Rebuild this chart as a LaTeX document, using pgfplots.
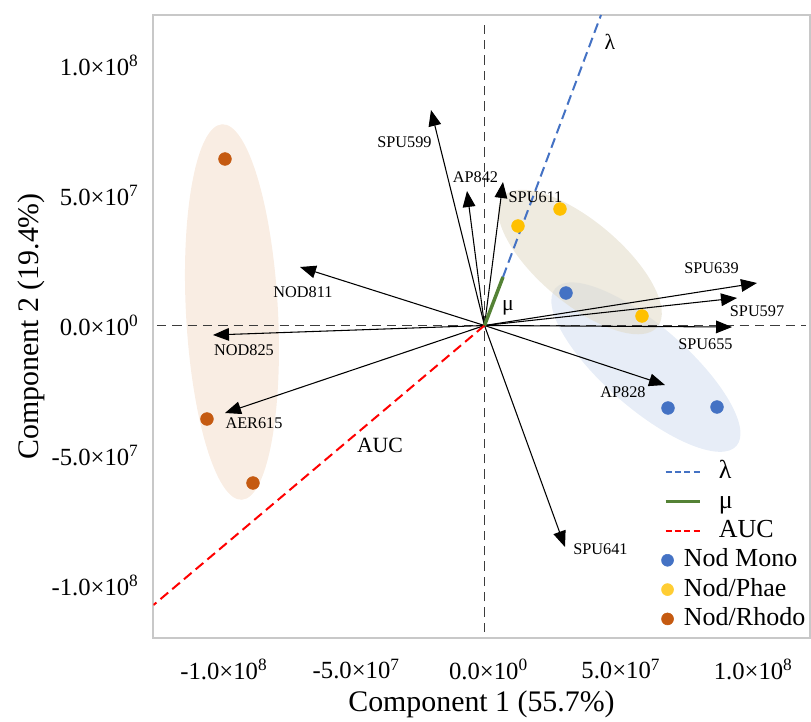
\documentclass[border=0pt]{standalone}
\usepackage{fontspec}
\setmainfont{Liberation Serif}
\usepackage{pgfplots}
\pgfplotsset{compat=1.18}
\usetikzlibrary{arrows.meta}
\definecolor{cblue}{RGB}{68,114,196}
\definecolor{cyellow}{RGB}{255,192,0}
\definecolor{corange}{RGB}{197,90,17}
\definecolor{cgreen}{RGB}{84,130,53}
\definecolor{ellorange}{RGB}{249,237,227}
\definecolor{ellbeige}{RGB}{225,218,198}
\definecolor{ellblue}{RGB}{231,237,247}
\definecolor{framegray}{RGB}{200,200,200}
\definecolor{zerogray}{RGB}{60,60,60}
\begin{document}
\begin{tikzpicture}
\begin{axis}[
  name=ax,
  scale only axis,
  width=492pt, height=467pt,
  xmin=-1.2509e8, xmax=1.2283e8,
  ymin=-1.2008e8, ymax=1.1942e8,
  axis line style={framegray, line width=1.5pt},
  major tick length=0pt,
  scaled ticks=false,
  xtick={-1e8,-5e7,0,5e7,1e8},
  ytick={-1e8,-5e7,0,5e7,1e8},
  xticklabels={{-1.0×10\textsuperscript{8}},{-5.0×10\textsuperscript{7}},{0.0×10\textsuperscript{0}},{5.0×10\textsuperscript{7}},{1.0×10\textsuperscript{8}}},
  yticklabels={{-1.0×10\textsuperscript{8}},{-5.0×10\textsuperscript{7}},{0.0×10\textsuperscript{0}},{5.0×10\textsuperscript{7}},{1.0×10\textsuperscript{8}}},
  ticklabel style={font=\fontsize{18.5}{22}\selectfont, inner sep=0pt},
  xticklabel style={yshift=-16pt, xshift=3pt},
  yticklabel style={xshift=-11pt},
  every axis x label/.style={at={([yshift=-50pt]rel axis cs:0.5,0)}, anchor=center},
  every axis y label/.style={at={([xshift=-91.9pt]rel axis cs:0,0.5)}, anchor=center, rotate=90},
  xlabel={Component 1 (55.7\%)},
  ylabel={Component 2 (19.4\%)},
  label style={font=\fontsize{22.4}{26}\selectfont},
  legend cell align=left,
  legend style={at={(0.7736,0.2854)}, anchor=north west, draw=none, fill=none, inner sep=0pt,
    font=\fontsize{19.5}{22}\selectfont, row sep=4pt,
    nodes={inner sep=0pt, text height=14pt, text depth=4pt},
    /tikz/every odd column/.style={column sep=12.75pt}},
]
% ellipses
\fill[ellorange, rotate around={3:(axis cs:-9.543e7,0.519e7)}] (axis cs:-9.543e7,0.519e7) ellipse [x radius=34.5pt, y radius=141pt];
\fill[ellblue, rotate around={-41:(axis cs:6.10e7,-1.60e7)}] (axis cs:6.10e7,-1.60e7) ellipse [x radius=90pt, y radius=31pt];
\fill[ellbeige, fill opacity=0.55, rotate around={-40:(axis cs:3.609e7,2.442e7)}] (axis cs:3.609e7,2.442e7) ellipse [x radius=75.75pt, y radius=31pt];

% zero lines
\addplot[forget plot, zerogray, line width=0.9pt, dash pattern=on 7pt off 4.5pt] coordinates {(0,-1.179e8) (0,1.167e8)};
\addplot[forget plot, zerogray, line width=0.9pt, dash pattern=on 7pt off 4.5pt] coordinates {(-1.2377e8,0) (1.2150e8,0)};

% loading arrows
\pgfplotsset{arr/.style={forget plot, black, line width=0.8pt, -{Triangle[length=12pt,width=9.5pt]}}}
\addplot[arr] coordinates {(0,0) (-2.022e7,8.288e7)};
\addplot[arr] coordinates {(0,0) (-0.661e7,5.173e7)};
\addplot[arr] coordinates {(0,0) (0.699e7,5.519e7)};
\addplot[arr] coordinates {(0,0) (1.0299e8,1.635e7)};
\addplot[arr] coordinates {(0,0) (9.543e7,1.058e7)};
\addplot[arr] coordinates {(0,0) (9.354e7,-0.058e7)};
\addplot[arr] coordinates {(0,0) (6.822e7,-2.288e7)};
\addplot[arr] coordinates {(0,0) (3.042e7,-8.519e7)};
\addplot[arr] coordinates {(0,0) (-6.973e7,2.250e7)};
\addplot[arr] coordinates {(0,0) (-1.0261e8,-0.365e7)};
\addplot[arr] coordinates {(0,0) (-9.807e7,-3.365e7)};

% parameter lines
\addplot[forget plot, red, line width=1.5pt, dash pattern=on 7.5pt off 4pt] coordinates {(0,0) (-1.2509e8,-1.075e8)};
\addplot[forget plot, cblue, line width=1.5pt, dash pattern=on 7.5pt off 4pt] coordinates {(0.699e7,1.865e7) (4.403e7,1.1942e8)};
\addplot[forget plot, cgreen, line width=2.6pt] coordinates {(0,0) (0.699e7,1.865e7)};

% points
\addplot[forget plot, only marks, mark=*, mark size=4.8pt, cblue] coordinates {(3.080e7,1.250e7) (6.935e7,-3.173e7) (8.787e7,-3.135e7)};
\addplot[forget plot, only marks, mark=*, mark size=4.8pt, cyellow] coordinates {(1.266e7,3.827e7) (2.853e7,4.481e7) (5.952e7,0.365e7)};
\addplot[forget plot, only marks, mark=*, mark size=4.8pt, corange] coordinates {(-9.807e7,6.404e7) (-1.0488e8,-3.596e7) (-8.749e7,-6.058e7)};

% labels
\begin{scope}[every node/.style={font=\fontsize{12.2}{14}\selectfont, inner sep=0pt}]
\node at (axis cs:-3.023e7,7.058e7) {SPU599};
\node at (axis cs:-0.340e7,5.712e7) {AP842};
\node at (axis cs:1.927e7,4.942e7) {SPU611};
\node at (axis cs:8.579e7,2.212e7) {SPU639};
\node at (axis cs:1.0299e8,0.558e7) {SPU597};
\node at (axis cs:8.352e7,-0.712e7) {SPU655};
\node at (axis cs:5.234e7,-2.558e7) {AP828};
\node at (axis cs:4.384e7,-8.596e7) {SPU641};
\node at (axis cs:-6.859e7,1.288e7) {NOD811};
\node at (axis cs:-9.089e7,-0.942e7) {NOD825};
\node at (axis cs:-8.711e7,-3.750e7) {AER615};
\end{scope}
\begin{scope}[every node/.style={font=\fontsize{16.3}{19}\selectfont, inner sep=0pt}]
\node at (axis cs:-3.949e7,-4.596e7) {AUC};
\node at (axis cs:4.743e7,1.0904e8) {λ};
\node at (axis cs:0.888e7,0.673e7) {μ};
\end{scope}

% legend
\addlegendimage{legend image code/.code={\draw[cblue, line width=1.2pt, dash pattern=on 4.5pt off 2.5pt] (0pt,0pt) -- (26pt,0pt);}}
\addlegendentry{λ}
\addlegendimage{legend image code/.code={\draw[cgreen, line width=2.6pt] (0pt,0pt) -- (26pt,0pt);}}
\addlegendentry{μ}
\addlegendimage{legend image code/.code={\draw[red, line width=1.2pt, dash pattern=on 4.5pt off 2.5pt] (0pt,0pt) -- (26pt,0pt);}}
\addlegendentry{AUC}
\addlegendimage{legend image code/.code={\fill[cblue] (1.5pt,0pt) circle (4.5pt);}}
\addlegendentry{\hspace{-26.25pt}Nod Mono}
\addlegendimage{legend image code/.code={\fill[cyellow!80!white] (1.5pt,0pt) circle (4.5pt);}}
\addlegendentry{\hspace{-26.25pt}Nod/Phae}
\addlegendimage{legend image code/.code={\fill[corange] (1.5pt,0pt) circle (4.5pt);}}
\addlegendentry{\hspace{-26.25pt}Nod/Rhodo}
\end{axis}
\pgfresetboundingbox
\path ([xshift=-115.1pt,yshift=-63.2pt]ax.south west) rectangle ([xshift=1.1pt,yshift=11.25pt]ax.north east);
\end{tikzpicture}
\end{document}
